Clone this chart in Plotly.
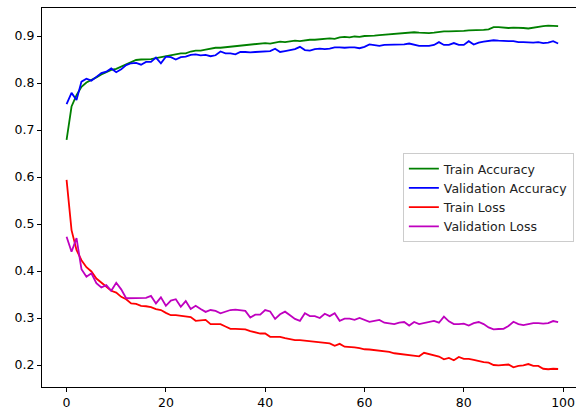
import plotly.graph_objects as go

epochs = list(range(100))

train_acc = [
    0.679, 0.750, 0.774, 0.792, 0.801, 0.806, 0.812, 0.818, 0.823, 0.828,
    0.830, 0.835, 0.840, 0.845, 0.849, 0.850, 0.850, 0.851, 0.853, 0.855,
    0.857, 0.860, 0.861, 0.863, 0.863, 0.867, 0.869, 0.869, 0.871, 0.873,
    0.875, 0.875, 0.876, 0.878, 0.879, 0.880, 0.880, 0.882, 0.883, 0.884,
    0.885, 0.884, 0.886, 0.888, 0.887, 0.889, 0.890, 0.889, 0.891, 0.892,
    0.892, 0.893, 0.894, 0.895, 0.894, 0.897, 0.898, 0.897, 0.899, 0.898,
    0.900, 0.900, 0.901, 0.902, 0.903, 0.904, 0.905, 0.906, 0.906, 0.907,
    0.908, 0.907, 0.906, 0.906, 0.907, 0.909, 0.910, 0.910, 0.910, 0.911,
    0.911, 0.912, 0.912, 0.912, 0.913, 0.914, 0.919, 0.919, 0.918, 0.917,
    0.918, 0.918, 0.917, 0.916, 0.918, 0.920, 0.921, 0.922, 0.922, 0.921,
]

val_acc = [
    0.755, 0.779, 0.764, 0.803, 0.809, 0.805, 0.813, 0.821, 0.824, 0.831,
    0.823, 0.829, 0.838, 0.842, 0.843, 0.839, 0.845, 0.845, 0.854, 0.842,
    0.856, 0.855, 0.850, 0.855, 0.856, 0.860, 0.861, 0.859, 0.860, 0.857,
    0.859, 0.867, 0.863, 0.863, 0.861, 0.866, 0.866, 0.865, 0.866, 0.867,
    0.868, 0.868, 0.873, 0.866, 0.868, 0.870, 0.872, 0.877, 0.870, 0.869,
    0.872, 0.873, 0.872, 0.873, 0.876, 0.876, 0.875, 0.876, 0.876, 0.874,
    0.877, 0.882, 0.880, 0.879, 0.881, 0.881, 0.881, 0.881, 0.882, 0.884,
    0.881, 0.879, 0.879, 0.879, 0.881, 0.887, 0.881, 0.881, 0.885, 0.881,
    0.881, 0.889, 0.882, 0.886, 0.888, 0.889, 0.891, 0.890, 0.889, 0.889,
    0.889, 0.887, 0.887, 0.886, 0.886, 0.887, 0.885, 0.886, 0.889, 0.884,
]

train_loss = [
    0.594, 0.487, 0.445, 0.423, 0.408, 0.399, 0.384, 0.375, 0.368, 0.358,
    0.354, 0.345, 0.340, 0.331, 0.330, 0.326, 0.325, 0.323, 0.319, 0.317,
    0.311, 0.306, 0.306, 0.305, 0.303, 0.302, 0.294, 0.295, 0.296, 0.287,
    0.287, 0.287, 0.282, 0.277, 0.277, 0.276, 0.276, 0.272, 0.269, 0.267,
    0.267, 0.260, 0.260, 0.260, 0.257, 0.255, 0.253, 0.253, 0.252, 0.250,
    0.250, 0.249, 0.2475, 0.246, 0.241, 0.245, 0.239, 0.239, 0.2375, 0.236,
    0.2335, 0.233, 0.232, 0.230, 0.229, 0.228, 0.225, 0.2234, 0.222, 0.2206,
    0.219, 0.2185, 0.226, 0.223, 0.221, 0.218, 0.212, 0.215, 0.210, 0.217,
    0.213, 0.213, 0.211, 0.208, 0.206, 0.205, 0.200, 0.199, 0.200, 0.201,
    0.195, 0.198, 0.199, 0.202, 0.198, 0.198, 0.192, 0.191, 0.192, 0.1915,
]

val_loss = [
    0.473, 0.441, 0.470, 0.404, 0.388, 0.395, 0.374, 0.365, 0.370, 0.358,
    0.375, 0.361, 0.342, 0.342, 0.342, 0.342, 0.343, 0.347, 0.331, 0.344,
    0.326, 0.337, 0.340, 0.324, 0.336, 0.319, 0.326, 0.319, 0.313, 0.317,
    0.315, 0.310, 0.313, 0.317, 0.318, 0.317, 0.315, 0.301, 0.307, 0.307,
    0.317, 0.314, 0.298, 0.308, 0.3135, 0.306, 0.298, 0.294, 0.310, 0.304,
    0.304, 0.300, 0.309, 0.304, 0.310, 0.294, 0.2985, 0.2985, 0.296, 0.300,
    0.296, 0.292, 0.294, 0.296, 0.290, 0.289, 0.287, 0.290, 0.2915, 0.284,
    0.2915, 0.287, 0.289, 0.2915, 0.294, 0.290, 0.303, 0.293, 0.287, 0.287,
    0.288, 0.284, 0.289, 0.2915, 0.287, 0.280, 0.276, 0.2766, 0.277, 0.283,
    0.292, 0.287, 0.285, 0.287, 0.289, 0.289, 0.288, 0.289, 0.2935, 0.291,
]

x_ticks = [0, 20, 40, 60, 80, 100]
y_ticks = [0.2, 0.3, 0.4, 0.5, 0.6, 0.7, 0.8, 0.9]

series = [
    ("Train Accuracy", train_acc, "#008000"),
    ("Validation Accuracy", val_acc, "#0000FF"),
    ("Train Loss", train_loss, "#FF0000"),
    ("Validation Loss", val_loss, "#BF00BF"),
]

fig = go.Figure()
for name, vals, color in series:
    fig.add_trace(go.Scatter(x=epochs, y=vals, mode="lines", name=name,
                             line=dict(color=color, width=1.8)))

font_family = "DejaVu Sans"
fig.update_layout(
    width=576, height=412,
    margin=dict(l=42, r=0, t=8, b=25),
    paper_bgcolor="white", plot_bgcolor="white",
    font=dict(family=font_family, size=12.5, color="black"),
    showlegend=True,
    legend=dict(x=0.996, xanchor="right", y=0.5, yanchor="middle",
                bgcolor="rgba(255,255,255,0.8)", bordercolor="#cccccc", borderwidth=1,
                font=dict(family=font_family, size=12.5, color="#222222"),
                tracegroupgap=0),
    xaxis=dict(range=[-4.95, 102.6], tickvals=x_ticks, ticktext=[str(v) for v in x_ticks],
               showgrid=False, zeroline=False, showline=True, linecolor="black", linewidth=1,
               mirror=True, ticks="outside", ticklen=4, tickcolor="black",
               tickfont=dict(family=font_family, size=12.5, color="black")),
    yaxis=dict(range=[0.1532, 0.9596], tickvals=y_ticks, ticktext=[f"{v:.1f}" for v in y_ticks],
               showgrid=False, zeroline=False, showline=True, linecolor="black", linewidth=1,
               mirror=False, ticks="outside", ticklen=4, tickcolor="black",
               tickfont=dict(family=font_family, size=12.5, color="black")),
)

fig.write_html("out.html", config={"displayModeBar": False},
               post_script="document.body.style.margin='0px';document.body.style.overflow='hidden';")
